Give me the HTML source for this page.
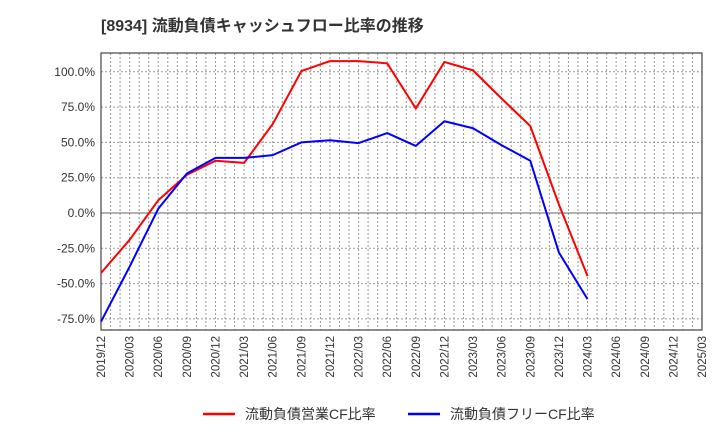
<!DOCTYPE html>
<html><head><meta charset="utf-8"><style>
body{margin:0;background:#fff;width:720px;height:440px;overflow:hidden;font-family:"Liberation Sans","Noto Sans CJK JP",sans-serif;}
</style></head><body>
<svg width="720" height="440" id="c" xmlns="http://www.w3.org/2000/svg">
<text x="101" y="31" font-size="16" font-weight="bold" fill="#333" font-family="Liberation Sans, Noto Sans CJK JP, sans-serif">[8934]  流動負債キャッシュフロー比率の推移</text>
<g id="grid"></g><g id="axes"></g><g id="series"></g>
<g font-size="14" fill="#333" font-family="Liberation Sans, Noto Sans CJK JP, sans-serif">
<line x1="203" y1="414" x2="235" y2="414" stroke="#f00" stroke-width="2.5"/>
<text x="245" y="419">流動負債営業CF比率</text>
<line x1="408" y1="414" x2="440" y2="414" stroke="#00f" stroke-width="2.5"/>
<text x="450" y="419">流動負債フリーCF比率</text>
</g>
</svg>
<script>
const categories=["2019/12","2020/03","2020/06","2020/09","2020/12","2021/03","2021/06","2021/09","2021/12","2022/03","2022/06","2022/09","2022/12","2023/03","2023/06","2023/09","2023/12","2024/03","2024/06","2024/09","2024/12","2025/03"];
const operatingCF=[-42.5,-19,9,27,37,35.5,63,100.5,107.6,107.6,106,74,107,101,81,61.6,6,-44.6];
const freeCF=[-77,-38,3,28,39,39,41,50,51.5,49.5,56.6,47.5,65,60,48,37,-28,-61];
const yTicks=[100,75,50,25,0,-25,-50,-75];
const yTickLabels=["100.0%","75.0%","50.0%","25.0%","0.0%","-25.0%","-50.0%","-75.0%"];
const L=101,R=702,T=53,B=330;
const NS="http://www.w3.org/2000/svg";
function x(i){return L+(R-L)*i/(categories.length-1);}
function y(v){return 213-v*35.3/25;}
function mk(tag,attrs,parent){const e=document.createElementNS(NS,tag);for(const k in attrs)e.setAttribute(k,attrs[k]);parent.appendChild(e);return e;}
const grid=document.getElementById('grid'),axes=document.getElementById('axes'),series=document.getElementById('series');
const nMonths=(categories.length-1)*3;
for(let m=1;m<nMonths;m++){const xx=L+(R-L)*m/nMonths;
const l=mk('line',{x1:xx,x2:xx,y1:T,y2:B,stroke:'#999','stroke-dasharray':'2,2','stroke-width':1},grid);

}
yTicks.forEach((v,i)=>{const yy=y(v);
const l=mk('line',{x1:L,x2:R,y1:yy,y2:yy,stroke:v===0?'#666':'#999','stroke-dasharray':v===0?'none':'2,2','stroke-width':1},grid);


const t=mk('text',{x:L-6,y:yy+4,'text-anchor':'end','font-size':12,fill:'#333'},axes);
t.textContent=yTickLabels[i];

});
categories.forEach((c,i)=>{const xx=x(i);
const t=mk('text',{x:0,y:0,transform:`translate(${xx+4},336) rotate(-90)`,'text-anchor':'end','font-size':11.5,fill:'#333'},axes);
t.textContent=c;

});
const fr=mk('rect',{x:L,y:T,width:R-L,height:B-T,fill:'none',stroke:'#444','stroke-width':1.2},axes);


function line(arr,color,name){
const p=mk('polyline',{points:arr.map((v,i)=>x(i)+','+y(v)).join(' '),fill:'none',stroke:color,'stroke-width':2,'stroke-linejoin':'round'},series);

}
line(operatingCF,'#f00','operating-cf-line');
line(freeCF,'#00f','free-cf-line');
</script>
</body></html>
